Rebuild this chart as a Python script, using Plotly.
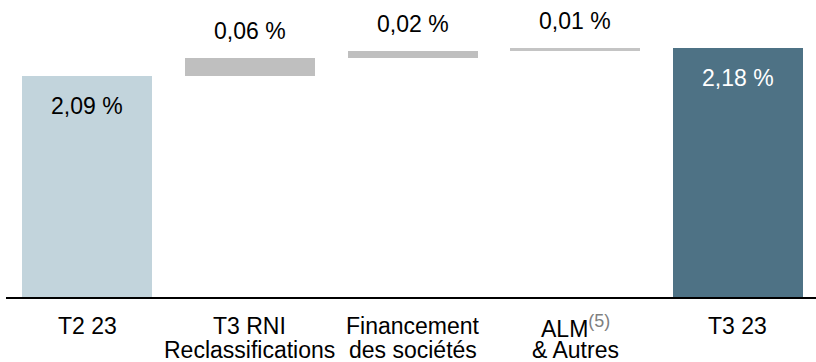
import plotly.graph_objects as go

# Waterfall of the rate: starting level, three contributions, ending level
categories = ["T2 23", "T3 RNI", "Financement", "ALM", "T3 23"]
second_line = ["", "Reclassifications", "des sociétés", "& Autres", ""]
footnote = ["", "", "", "(5)", ""]
measures = ["absolute", "relative", "relative", "relative", "total"]
values = [2.09, 0.06, 0.02, 0.01, 2.18]
value_labels = ["2,09 %", "0,06 %", "0,02 %", "0,01 %", "2,18 %"]

colors = ["#c2d4dc", "#bfbfbf", "#bfbfbf", "#c4c4c4", "#4e7285"]
label_colors = ["#000000", "#000000", "#000000", "#000000", "#ffffff"]
FONT = "Liberation Sans, Arial, sans-serif"

# Bases and tops of each bar computed from the running total
bases, tops = [], []
running = 0.0
for m, v in zip(measures, values):
    if m == "absolute":
        bases.append(0.0)
        running = v
        tops.append(v)
    elif m == "relative":
        bases.append(running)
        running += v
        tops.append(running)
    else:
        bases.append(0.0)
        tops.append(v)
heights = [t - b for t, b in zip(tops, bases)]
xpos = list(range(len(categories)))

fig = go.Figure(
    go.Bar(
        x=xpos,
        y=heights,
        base=bases,
        width=0.8,
        marker=dict(color=colors, line=dict(width=0)),
        hoverinfo="skip",
    )
)

annotations = []
for i, (m, top, lab) in enumerate(zip(measures, tops, value_labels)):
    inside = m != "relative"
    annotations.append(dict(
        x=i, y=top, xref="x", yref="y",
        text=lab, showarrow=False,
        yanchor="middle", xanchor="center",
        yshift=-30 if inside else 27,
        font=dict(family=FONT, size=23, color=label_colors[i]),
    ))

for i, (c1, c2, note) in enumerate(zip(categories, second_line, footnote)):
    txt = c1
    if note:
        txt += ("<sup><span style='font-size:18px;color:#7f7f7f'>"
                + note + "</span></sup>")
    annotations.append(dict(
        x=i, y=0, xref="x", yref="paper",
        text=txt, showarrow=False,
        yanchor="middle", xanchor="center", yshift=-29,
        font=dict(family=FONT, size=23, color="#000000"),
    ))
    if c2:
        annotations.append(dict(
            x=i, y=0, xref="x", yref="paper",
            text=c2, showarrow=False,
            yanchor="middle", xanchor="center", yshift=-53,
            font=dict(family=FONT, size=23, color="#000000"),
        ))

fig.update_layout(
    width=816, height=362,
    margin=dict(l=6, r=0, t=0, b=65),
    paper_bgcolor="white", plot_bgcolor="white",
    showlegend=False,
    bargap=0,
    xaxis=dict(
        range=[-0.5, 4.48], showticklabels=False, ticks="",
        showgrid=False, zeroline=False,
        showline=True, linecolor="#000000", linewidth=2,
    ),
    yaxis=dict(
        range=[1.3736, 2.337], visible=False, showgrid=False, zeroline=False,
    ),
    annotations=annotations,
)

fig.write_html("out.html")
